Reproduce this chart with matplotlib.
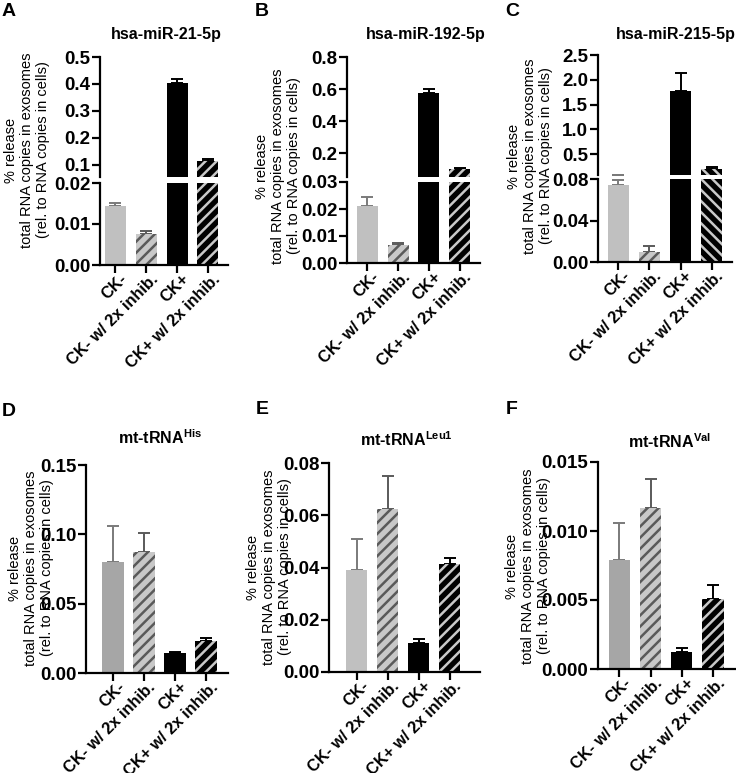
import matplotlib.pyplot as plt
from matplotlib.transforms import ScaledTranslation
import numpy as np

plt.rcParams['font.family'] = ['Liberation Sans', 'DejaVu Sans']
plt.rcParams['mathtext.fontset'] = 'custom'
plt.rcParams['mathtext.bf'] = 'Liberation Sans:bold'
plt.rcParams['mathtext.rm'] = 'Liberation Sans'
plt.rcParams['hatch.linewidth'] = 1.8

W, H = 736, 773
fig = plt.figure(figsize=(W / 100, H / 100), dpi=100)

groups = ['CK-', 'CK- w/ 2x inhib.', 'CK+', 'CK+ w/ 2x inhib.']

# mean values and upper SEM
mir21 = [0.0145, 0.0075, 0.405, 0.115]
mir21_err = [0.0006, 0.0008, 0.015, 0.008]
mir192 = [0.021, 0.0068, 0.578, 0.101]
mir192_err = [0.0033, 0.0007, 0.02, 0.01]
mir215 = [0.074, 0.0095, 1.78, 0.20]
mir215_err = [0.005, 0.0055, 0.35, 0.04]
trna_his = [0.080, 0.0875, 0.0145, 0.023]
trna_his_err = [0.026, 0.0135, 0.001, 0.0025]
trna_leu1 = [0.039, 0.0625, 0.011, 0.0413]
trna_leu1_err = [0.012, 0.0125, 0.0018, 0.0022]
trna_val = [0.0079, 0.0117, 0.0012, 0.0051]
trna_val_err = [0.0027, 0.0021, 0.0003, 0.001]

LIGHT = '#c0c0c0'
MID = '#a6a6a6'


def px_axes(left, right, top, bottom):
    return fig.add_axes([left / W, 1 - bottom / H, (right - left) / W, (bottom - top) / H])


def style(ax):
    for s in ['top', 'right']:
        ax.spines[s].set_visible(False)
    ax.spines['left'].set_linewidth(1.6)
    ax.spines['bottom'].set_linewidth(1.6)
    ax.tick_params(width=1.6, length=5.5, labelsize=13.5, pad=1.5)
    for lab in ax.get_yticklabels():
        lab.set_fontweight('bold')


def draw_bars(ax, vals, errs, first_color, flip=False):
    x = np.arange(len(vals))
    faces = [first_color, '#c8c8c8', 'black', 'black']
    hcols = [first_color, '#5a5a5a', 'black', '#c8c8c8']
    hatches = [None, '///', None, '\\\\\\' if flip else '///']
    ecols = ['#7a7a7a', '#5a5a5a', 'black', 'black']
    for i in range(len(vals)):
        ax.errorbar(x[i], vals[i], yerr=[[0], [errs[i]]], fmt='none',
                    ecolor=ecols[i], elinewidth=1.4, capsize=4, capthick=1.4, zorder=1)
        ax.bar(x[i], vals[i], width=0.68, color=faces[i], edgecolor=hcols[i],
               hatch=hatches[i], linewidth=0, zorder=2)
    ax.set_xticks(x)


def xlabels(ax):
    labs = ax.set_xticklabels(groups, rotation=45, ha='right', va='top',
                              rotation_mode='anchor', fontsize=11.8, fontweight='bold')
    shift = ScaledTranslation(0.04, 0.035, fig.dpi_scale_trans)
    for lab in labs:
        lab.set_transform(lab.get_transform() + shift)


def broken_panel(box, xlim, vals, errs, top_lim, top_ticks, bot_lim, bot_ticks, fmt_top, fmt_bot, flip=False):
    left, right, t1, b1, t2, b2 = box
    ax_t = px_axes(left, right, t1, b1)
    ax_b = px_axes(left, right, t2, b2)
    for ax in (ax_t, ax_b):
        draw_bars(ax, vals, errs, LIGHT, flip)
        ax.set_xlim(*xlim)
    ax_t.set_ylim(*top_lim)
    ax_t.set_yticks(top_ticks)
    ax_t.set_yticklabels([fmt_top.format(v) for v in top_ticks])
    ax_b.set_ylim(*bot_lim)
    ax_b.set_yticks(bot_ticks)
    ax_b.set_yticklabels([fmt_bot.format(v) for v in bot_ticks])
    style(ax_t)
    style(ax_b)
    ax_t.spines['bottom'].set_visible(False)
    ax_t.tick_params(axis='x', bottom=False, labelbottom=False)
    xlabels(ax_b)


def plain_panel(box, xlim, vals, errs, ylim, ticks, fmt, first_color):
    left, right, t, b = box
    ax = px_axes(left, right, t, b)
    draw_bars(ax, vals, errs, first_color)
    ax.set_xlim(*xlim)
    ax.set_ylim(*ylim)
    ax.set_yticks(ticks)
    ax.set_yticklabels([fmt.format(v) for v in ticks])
    style(ax)
    xlabels(ax)


broken_panel((100, 228, 57, 177, 183, 265), (-0.5, 3.65), mir21, mir21_err,
             (0.055, 0.5), [0.1, 0.2, 0.3, 0.4, 0.5], (0, 0.02), [0, 0.01, 0.02], '{:.1f}', '{:.2f}')
broken_panel((347, 480, 57, 177, 182, 263), (-0.65, 3.65), mir192, mir192_err,
             (0.052, 0.8), [0.2, 0.4, 0.6, 0.8], (0, 0.03), [0, 0.01, 0.02, 0.03], '{:.1f}', '{:.2f}')
broken_panel((598, 732, 55, 175, 179, 262), (-0.65, 3.65), mir215, mir215_err,
             (0.076, 2.5), [0.5, 1.0, 1.5, 2.0, 2.5], (0, 0.08), [0, 0.04, 0.08], '{:.1f}', '{:.2f}', flip=True)

plain_panel((86, 228, 465, 673), (-0.87, 3.71), trna_his, trna_his_err,
            (0, 0.15), [0, 0.05, 0.10, 0.15], '{:.2f}', MID)
plain_panel((329, 480, 463, 672), (-0.9, 3.97), trna_leu1, trna_leu1_err,
            (0, 0.08), [0, 0.02, 0.04, 0.06, 0.08], '{:.2f}', LIGHT)
plain_panel((598, 735, 462, 669), (-0.68, 3.7), trna_val, trna_val_err,
            (0, 0.015), [0, 0.005, 0.010, 0.015], '{:.3f}', MID)

ylab = '% release\ntotal RNA copies in exosomes\n(rel. to RNA copies in cells)'
for xc, yc in [(27, 150), (278, 166), (530, 156), (31, 568), (269, 567), (528, 566)]:
    fig.text(xc / W, 1 - yc / H, ylab, rotation=90, ha='center', va='center',
             fontsize=10.5, linespacing=1.2)

titles = ['hsa-miR-21-5p', 'hsa-miR-192-5p', 'hsa-miR-215-5p',
          r'mt-tRNA$^{\mathbf{His}}$', r'mt-tRNA$^{\mathbf{Leu1}}$', r'mt-tRNA$^{\mathbf{Val}}$']
for t, (xc, yc) in zip(titles, [(166, 35), (426, 35), (676, 35), (160, 438), (406, 440), (670, 442)]):
    fig.text(xc / W, 1 - yc / H, t, ha='center', va='center', fontsize=11.5, fontweight='bold')

for letter, (xc, yc) in zip('ABCDEF', [(9, 12), (262, 12), (512, 12), (9, 412), (262, 410), (512, 410)]):
    fig.text(xc / W, 1 - yc / H, letter, ha='center', va='center', fontsize=14, fontweight='bold')

fig.savefig('out.png', dpi=100)
